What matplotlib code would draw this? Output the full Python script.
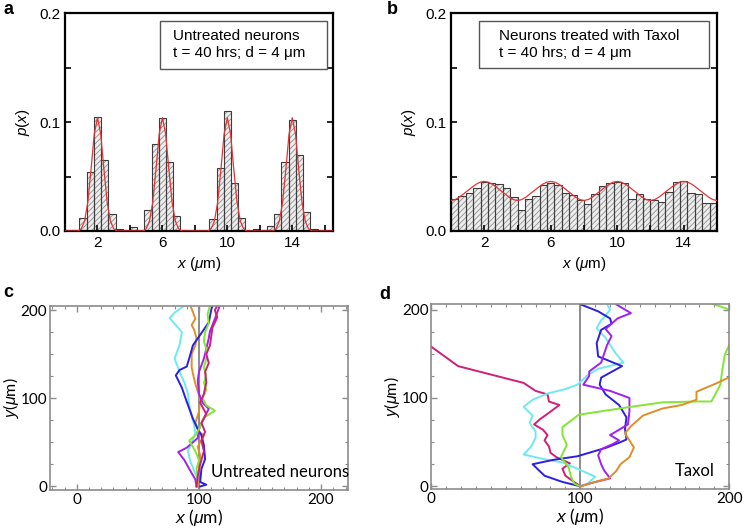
import matplotlib
matplotlib.use('Agg')
import numpy as np
import matplotlib.pyplot as plt
from matplotlib.patches import Rectangle
from matplotlib.ticker import MultipleLocator, FixedLocator

plt.rcParams['font.family'] = ['Liberation Sans', 'DejaVu Sans']
plt.rcParams['mathtext.fontset'] = 'custom'
plt.rcParams['mathtext.it'] = 'Liberation Sans:italic'
plt.rcParams['mathtext.rm'] = 'Liberation Sans'
plt.rcParams['hatch.linewidth'] = 0.6

# histogram bins (width 4/9 um, starting at 0)
bin_width = 4 / 9

a_heights = [0.001, 0.001, 0.012, 0.054, 0.105, 0.065, 0.016, 0.002, 0.0, 0.004,
             0.0, 0.019, 0.080, 0.104, 0.063, 0.014, 0.001, 0.0, 0.0, 0.0,
             0.011, 0.058, 0.110, 0.044, 0.012, 0.0, 0.002, 0.0, 0.005, 0.016,
             0.063, 0.102, 0.070, 0.017, 0.002, 0.0, 0.0]
b_heights = [0.029, 0.032, 0.035, 0.039, 0.045, 0.044, 0.043, 0.039, 0.031, 0.019,
             0.029, 0.032, 0.042, 0.044, 0.042, 0.035, 0.033, 0.028, 0.025, 0.034,
             0.041, 0.044, 0.045, 0.044, 0.029, 0.034, 0.029, 0.028, 0.027, 0.036,
             0.045, 0.046, 0.035, 0.034, 0.026, 0.026]

# fitted curve in a: one peak profile, repeated at each peak
a_peaks = [2, 6, 10, 14]
a_fit_offsets = [-1.2, -1.0, -0.8, -0.6, -0.4, -0.2, 0.0, 0.2, 0.4, 0.6, 0.8, 1.0, 1.2]
a_fit_values = [0.0, 0.002, 0.009, 0.026, 0.056, 0.089, 0.104, 0.089, 0.056, 0.026, 0.009, 0.002, 0.0]

# fitted curve in b: one period (trough to trough) repeated
b_troughs = [0, 4, 8, 12]
b_fit_offsets = [0.0, 0.25, 0.5, 0.75, 1.0, 1.25, 1.5, 1.75, 2.0,
                 2.25, 2.5, 2.75, 3.0, 3.25, 3.5, 3.75, 4.0]
b_fit_values = [0.028, 0.0288, 0.031, 0.034, 0.037, 0.040, 0.0428, 0.0448, 0.0455,
                0.0448, 0.0428, 0.040, 0.037, 0.034, 0.031, 0.0288, 0.028]

# trajectories (x, y) in um
c_cyan = [(98, 0), (99, 8), (96, 18), (93, 28), (91, 40), (94, 50), (97, 60), (96, 70),
          (94, 80), (92, 92), (91, 105), (88, 118), (85, 127), (80, 145), (84, 160),
          (86, 175), (76, 191), (80, 197), (88, 205)]
c_orange = [(99, 0), (99, 8), (100, 20), (101, 35), (99, 45), (104, 58), (100, 62), (97, 72),
            (100, 85), (101, 100), (98, 112), (96, 122), (94, 135), (94, 150), (97, 160),
            (98, 168), (96, 178), (94, 183), (97, 190), (95, 198), (93, 205)]
c_blue = [(101, 0), (106, 2), (101, 5), (102, 20), (105, 31), (104, 47), (102, 58), (99, 65),
          (95, 77), (90, 96), (86, 112), (81, 126), (84, 132), (90, 136), (93, 150),
          (95, 160), (99, 168), (104, 178), (108, 186), (110, 200), (111, 205)]
c_purple = [(98, 0), (97, 8), (92, 20), (88, 30), (83, 39), (90, 44), (95, 50), (99, 55),
            (100, 65), (103, 75), (108, 88), (103, 95), (100, 105), (99, 120), (100, 130),
            (104, 145), (106, 156), (108, 168), (109, 176), (113, 190), (117, 205)]
c_green = [(98, 0), (99, 10), (98, 20), (100, 30), (97, 40), (92, 52), (97, 58), (100, 65),
           (104, 78), (113, 86), (106, 92), (103, 100), (106, 110), (104, 118), (106, 126),
           (104, 135), (106, 145), (106, 156), (104, 165), (105, 175), (108, 185),
           (107, 195), (109, 205)]
c_magenta = [(98, 0), (99, 12), (101, 25), (104, 40), (102, 52), (105, 62), (102, 72),
             (106, 82), (101, 95), (104, 105), (106, 118), (105, 130), (108, 140),
             (106, 150), (109, 160), (110, 170), (111, 180), (115, 192), (113, 200), (115, 205)]

d_magenta = [(100, 0), (95, 6), (90, 12), (88, 20), (93, 26), (84, 33), (80, 38), (79, 45),
             (76, 52), (78, 58), (75, 64), (69, 70), (73, 76), (78, 82), (86, 92), (79, 96),
             (78, 104), (70, 108), (62, 117), (18, 136), (0, 158)]
d_cyan = [(100, 0), (105, 3), (110, 11), (98, 20), (88, 27), (75, 31), (62, 36), (67, 45),
          (70, 55), (70, 62), (66, 72), (68, 80), (62, 90), (68, 98), (78, 105), (90, 110),
          (98, 115), (100, 118), (105, 126), (112, 133), (129, 140), (124, 150), (120, 160),
          (117, 168), (111, 179), (114, 188), (116, 191), (120, 200), (118, 206)]
d_blue = [(100, 0), (88, 5), (76, 12), (68, 25), (82, 30), (98, 34), (118, 44), (127, 50),
          (131, 53), (130, 65), (131, 78), (126, 92), (117, 104), (113, 115), (114, 123),
          (128, 136), (112, 147), (111, 162), (114, 177), (121, 184), (120, 190),
          (112, 198), (100, 206)]
d_purple = [(100, 0), (108, 4), (120, 9), (116, 18), (114, 25), (112, 35), (114, 42),
            (122, 48), (126, 52), (120, 58), (126, 64), (132, 70), (133, 85), (133, 100),
            (120, 108), (102, 115), (106, 125), (106, 130), (114, 140), (116, 150),
            (118, 160), (121, 170), (117, 178), (125, 190), (134, 196), (124, 206)]
d_green = [(100, 0), (96, 3), (94, 10), (92, 22), (87, 33), (91, 47), (88, 58), (88, 67),
           (99, 81), (130, 89), (155, 95), (178, 96), (188, 96), (194, 115), (195, 128),
           (197, 149), (200, 160), (206, 172), (210, 190), (200, 200), (188, 207)]
d_orange = [(100, 0), (106, 3), (112, 6), (119, 9), (124, 17), (127, 25), (133, 33),
            (136, 44), (130, 60), (134, 68), (142, 80), (155, 88), (168, 92), (178, 98),
            (178, 107), (192, 117), (202, 125)]

colors = {'cyan': '#6fe9ef', 'orange': '#e08e2a', 'blue': '#2b1fe3',
          'purple': '#a11ff0', 'green': '#82e632', 'magenta': '#cf1f78'}


def draw_hist(ax, heights, xmax):
    left = np.arange(len(heights)) * bin_width
    ax.bar(left, heights, width=bin_width, align='edge', color='#ededed',
           edgecolor='#8f8f8f', hatch='//////', linewidth=0)
    ax.bar(left, heights, width=bin_width, align='edge', fill=False,
           edgecolor='#3c3c3c', linewidth=0.8)
    ax.set_xlim(0, xmax)
    ax.set_ylim(0, 0.2)
    ax.xaxis.set_major_locator(FixedLocator([2, 6, 10, 14]))
    ax.xaxis.set_minor_locator(FixedLocator([0, 4, 8, 12, 16]))
    ax.yaxis.set_major_locator(FixedLocator([0, 0.1, 0.2]))
    ax.yaxis.set_minor_locator(FixedLocator([0.05, 0.15]))
    ax.set_yticklabels(['0.0', '0.1', '0.2'])
    ax.tick_params(which='both', direction='in', right=True, top=False,
                   labelsize=11, width=1.2, length=4)
    for s in ax.spines.values():
        s.set_linewidth(1.6)
    ax.set_xlabel(r'$\it{x}$ ($\mu$m)', fontsize=11, labelpad=4)
    ax.set_ylabel(r'$\it{p}$($\it{x}$)', fontsize=11, labelpad=5)


def draw_box(ax, x0, x1, y0, y1, tx, lines):
    ax.add_patch(Rectangle((x0, y0), x1 - x0, y1 - y0, transform=ax.transAxes,
                           facecolor='white', edgecolor='#555555', linewidth=1.0, zorder=5))
    ax.text(tx, 0.894, lines[0], transform=ax.transAxes, fontsize=11, va='center', zorder=6)
    ax.text(tx, 0.815, lines[1], transform=ax.transAxes, fontsize=11, va='center', zorder=6)


def draw_tracks(ax, tracks, xlim, ylim):
    ax.axvline(100, color='#8c8c8c', linewidth=1.4, zorder=1)
    for name, pts in tracks:
        xs = [p[0] for p in pts]
        ys = [p[1] for p in pts]
        ax.plot(xs, ys, color=colors[name], linewidth=1.4, zorder=2)
    ax.set_xlim(*xlim)
    ax.set_ylim(*ylim)
    ax.xaxis.set_major_locator(FixedLocator([0, 100, 200]))
    ax.xaxis.set_minor_locator(MultipleLocator(10))
    ax.yaxis.set_major_locator(FixedLocator([0, 100, 200]))
    ax.yaxis.set_minor_locator(MultipleLocator(25))
    ax.tick_params(which='both', direction='in', top=True, right=True, color='#8c8c8c',
                   labelsize=11, labelfontfamily='Lato', pad=2)
    ax.tick_params(which='major', length=4, width=1)
    ax.tick_params(which='minor', length=2.5, width=0.8)
    for s in ax.spines.values():
        s.set_color('#8c8c8c')
        s.set_linewidth(1.2)
    ax.set_xlabel(r'$\it{x}$ ($\mu$m)', fontsize=12.5, labelpad=0, fontfamily='Lato')
    ax.set_ylabel(r'$\it{y}$($\mu$m)', fontsize=11.5, labelpad=0, fontfamily='Lato')


fig = plt.figure(figsize=(7.44, 5.30), dpi=100)

ax_a = fig.add_axes([0.0874, 0.5642, 0.3600, 0.4110])
ax_b = fig.add_axes([0.6062, 0.5642, 0.3575, 0.4110])
ax_c = fig.add_axes([0.0672, 0.0755, 0.4005, 0.3477])
ax_d = fig.add_axes([0.5797, 0.0774, 0.4005, 0.3485])

# a
draw_hist(ax_a, a_heights, 16.5)
fx, fy = [0.0], [0.0]
for pk in a_peaks:
    fx += [pk + o for o in a_fit_offsets]
    fy += a_fit_values
fx.append(16.5)
fy.append(0.0)
ax_a.plot(fx, fy, color='#e03535', linewidth=0.9, zorder=4)
draw_box(ax_a, 0.354, 0.978, 0.743, 0.963, 0.404,
         ['Untreated neurons', 't = 40 hrs; d = 4 \u03bcm'])

# b
draw_hist(ax_b, b_heights, 16)
gx, gy = [], []
for tr in b_troughs:
    gx += [tr + o for o in b_fit_offsets]
    gy += b_fit_values
ax_b.plot(gx, gy, color='#e03535', linewidth=0.9, zorder=4)
draw_box(ax_b, 0.105, 0.970, 0.748, 0.963, 0.179,
         ['Neurons treated with Taxol', 't = 40 hrs; d = 4 \u03bcm'])

# c
draw_tracks(ax_c, [('cyan', c_cyan), ('orange', c_orange), ('blue', c_blue),
                   ('purple', c_purple), ('green', c_green), ('magenta', c_magenta)],
            (-22, 222), (-4, 205))
ax_c.text(0.54, 0.098, 'Untreated neurons', transform=ax_c.transAxes, fontsize=12,
          fontfamily='Lato', va='center', ha='left')

# d
draw_tracks(ax_d, [('magenta', d_magenta), ('cyan', d_cyan), ('blue', d_blue),
                   ('purple', d_purple), ('green', d_green), ('orange', d_orange)],
            (0, 200), (-3, 206))
ax_d.text(0.817, 0.098, 'Taxol', transform=ax_d.transAxes, fontsize=12,
          fontfamily='Lato', va='center', ha='left')

# panel letters
for lx, ly, lab in [(3, 14, 'a'), (387, 14, 'b'), (3, 297, 'c'), (379, 299, 'd')]:
    fig.text(lx / 744, 1 - ly / 530, lab, fontsize=13, fontweight='bold', va='baseline')

fig.savefig('out.png', dpi=100)
